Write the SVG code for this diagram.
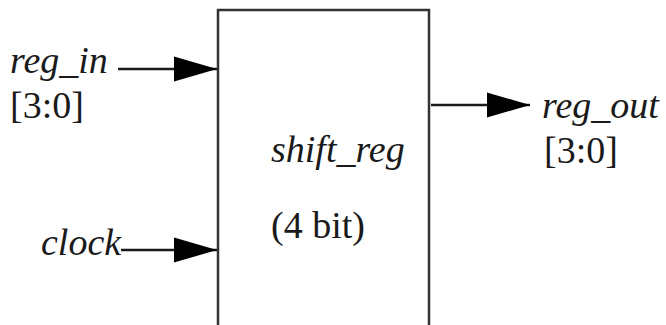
<svg xmlns="http://www.w3.org/2000/svg" width="666" height="325" viewBox="0 0 666 325">
<defs>
<style>
.lbl{font-family:"Liberation Serif","Times New Roman",serif;font-size:38px;fill:#1a1a1a}
.it{font-style:italic}
.wire{stroke:#1a1a1a;stroke-width:2.5;fill:none}
.box{stroke:#333;stroke-width:2.5;fill:#fff}
</style>
<marker id="arr" markerUnits="userSpaceOnUse" markerWidth="44" markerHeight="28" refX="43" refY="14" orient="auto">
<path d="M0,1.5 L43,14 L0,26.5 Z" fill="#000"/>
</marker>
</defs>
<rect width="666" height="325" fill="#fff"/>
<g id="shift_reg">
<rect class="box" x="218" y="10" width="211" height="318"/>
<text class="lbl it" x="271" y="162">shift_reg</text>
<text class="lbl" x="271" y="238">(4 bit)</text>
</g>
<g id="reg_in">
<text class="lbl it" x="10" y="73">reg_in</text>
<text class="lbl" x="10" y="118">[3:0]</text>
</g>
<g id="clock">
<text class="lbl it" x="41" y="255">clock</text>
</g>
<g id="reg_out">
<text class="lbl it" x="542" y="118">reg_out</text>
<text class="lbl" x="544" y="163">[3:0]</text>
</g>
<g id="connectors">
<line class="wire" x1="118" y1="69" x2="217" y2="69" marker-end="url(#arr)"/>
<line class="wire" x1="121" y1="250" x2="217" y2="250" marker-end="url(#arr)"/>
<line class="wire" x1="431" y1="105" x2="530" y2="105" marker-end="url(#arr)"/>
</g>
</svg>
